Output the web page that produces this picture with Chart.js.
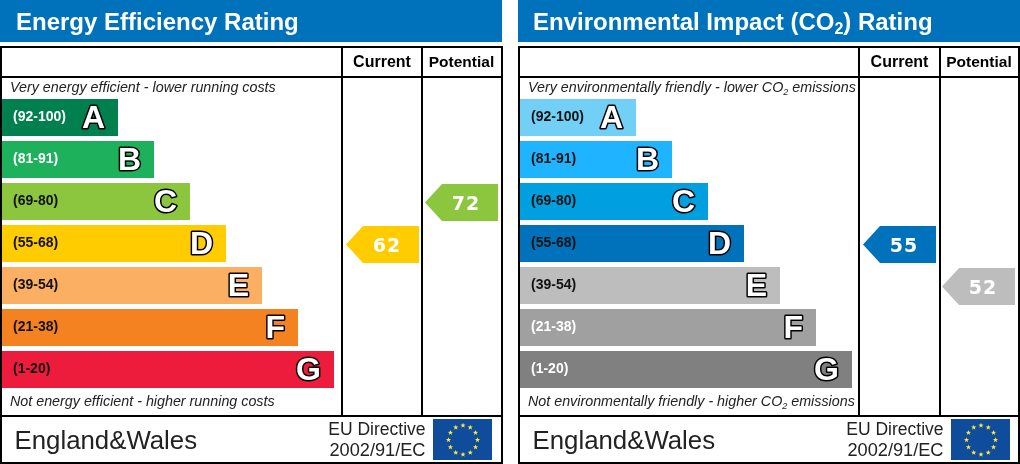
<!DOCTYPE html>
<html>
<head>
<meta charset="utf-8">
<title>Energy Performance Certificate</title>
<script src="https://cdn.jsdelivr.net/npm/chart.js@4"></script>
<style>
    html, body { margin: 0; padding: 0; background: #fff; overflow: hidden; }
    canvas { position: absolute; top: 0; }
    #energyChart { left: 0; }
    #envChart { left: 518px; }
</style>
</head>
<body>
<canvas id="energyChart" width="503" height="464"></canvas>
<canvas id="envChart" width="502" height="464"></canvas>
<script>
// rating bands
const bandRanges = ['(92-100)', '(81-91)', '(69-80)', '(55-68)', '(39-54)', '(21-38)', '(1-20)'];
const bandLetters = ['A', 'B', 'C', 'D', 'E', 'F', 'G'];
const bandLows = [92, 81, 69, 55, 39, 21, 1];
const bandLengths = [116, 152, 188, 224, 260, 296, 332];

// scores
const energyCurrent = 62;
const energyPotential = 72;
const envCurrent = 55;
const envPotential = 52;

// colours
const energyColors = ['#00804F', '#1CB15A', '#8CC63F', '#FFCC00', '#FBAF62', '#F58220', '#ED1C3C'];
const envColors = ['#72CFF5', '#1FB4FF', '#009FDF', '#0072BC', '#BDBDBD', '#A0A0A0', '#808080'];
const energyRangeColors = ['#fff', '#fff', '#111', '#111', '#111', '#111', '#111'];
const envRangeColors = ['#111', '#111', '#111', '#111', '#111', '#fff', '#fff'];

const SANS = '"Liberation Sans", Arial, sans-serif';

function rowOf(score) {
    return bandLows.findIndex(low => score >= low);
}

// floating bar on the x scale, scale starts 2px into the canvas
function pointerData(score, end) {
    const row = rowOf(score);
    return bandLetters.map((l, i) => (i === row ? [end - 75, end - 2] : null));
}

// text with a lowered small "2"
function drawSegments(ctx, segments, x, y, font, subFont, subDrop) {
    ctx.textAlign = 'left';
    segments.forEach(function (seg) {
        ctx.font = seg.sub ? subFont : font;
        ctx.fillText(seg.text, x, seg.sub ? y + subDrop : y);
        x += ctx.measureText(seg.text).width;
    });
}

function drawFlag(ctx) {
    ctx.fillStyle = '#0F4C9C';
    ctx.fillRect(433, 419, 59, 41);
    ctx.fillStyle = '#FFE93B';
    for (let i = 0; i < 12; i++) {
        const a = i * Math.PI / 6;
        const cx = 463 + 14.5 * Math.sin(a);
        const cy = 440 - 14.5 * Math.cos(a);
        ctx.beginPath();
        for (let p = 0; p < 10; p++) {
            const r = p % 2 ? 1.1 : 2.8;
            const b = p * Math.PI / 5;
            ctx.lineTo(cx + r * Math.sin(b), cy - r * Math.cos(b));
        }
        ctx.closePath();
        ctx.fill();
    }
}

// header, frame, captions and footer
const framePlugin = {
    id: 'frame',
    beforeDraw: function (chart) {
        const ctx = chart.ctx;
        const p = chart.options.plugins.frame;
        ctx.save();
        ctx.fillStyle = '#0072BC';
        ctx.fillRect(0, 0, p.width - (p.width === 503 ? 1 : 0), 42);
        ctx.fillStyle = '#fff';
        ctx.textBaseline = 'alphabetic';
        drawSegments(ctx, p.title, p.titleX, 30, 'bold 24px ' + SANS, 'bold 16px ' + SANS, 4);
        ctx.restore();
    },
    afterDraw: function (chart) {
        const ctx = chart.ctx;
        const p = chart.options.plugins.frame;
        ctx.save();

        // frame lines
        ctx.fillStyle = '#000';
        ctx.fillRect(0, 46, p.width, 2);
        ctx.fillRect(0, 76, p.width, 2);
        ctx.fillRect(0, 415, p.width, 2);
        ctx.fillRect(0, 462, p.width, 2);
        ctx.fillRect(0, 46, 2, 418);
        ctx.fillRect(p.width - 2, 46, 2, 418);
        ctx.fillRect(p.col1 - 1, 46, 2, 371);
        ctx.fillRect(p.col2 - 1, 46, 2, 371);

        // column headings
        ctx.fillStyle = '#000';
        ctx.textBaseline = 'alphabetic';
        ctx.textAlign = 'center';
        ctx.font = 'bold 16px ' + SANS;
        ctx.fillText('Current', (p.col1 + p.col2) / 2, 67);
        ctx.font = 'bold 15.5px ' + SANS;
        ctx.fillText('Potential', (p.col2 + p.width) / 2 - 1, 67);

        // captions
        ctx.fillStyle = '#222';
        drawSegments(ctx, p.topNote, 10, 92, 'italic 14.3px ' + SANS, 'italic 9px ' + SANS, 3);
        drawSegments(ctx, p.bottomNote, 10, 406, 'italic 14.3px ' + SANS, 'italic 9px ' + SANS, 3);

        // footer
        ctx.fillStyle = '#222';
        ctx.textAlign = 'left';
        ctx.font = '25.8px ' + SANS;
        ctx.fillText('England&Wales', 14.5, 449);
        ctx.textAlign = 'right';
        ctx.font = '17.5px ' + SANS;
        ctx.fillText('EU Directive', 425.5, 435);
        ctx.font = '18.2px ' + SANS;
        ctx.fillText('2002/91/EC', 425.5, 456);
        drawFlag(ctx);

        // band letters
        const bands = chart.getDatasetMeta(0).data;
        ctx.textAlign = 'right';
        ctx.font = 'bold 32px ' + SANS;
        ctx.lineJoin = 'round';
        ctx.lineWidth = 3;
        bandLetters.forEach(function (letter, i) {
            const x = bands[i].x - 13;
            const y = bands[i].y + 10;
            ctx.strokeStyle = '#000';
            ctx.strokeText(letter, x, y);
            ctx.fillStyle = '#fff';
            ctx.fillText(letter, x, y);
        });

        // score pointers
        [1, 2].forEach(function (index) {
            const dataset = chart.data.datasets[index];
            const row = rowOf(dataset.score);
            const el = chart.getDatasetMeta(index).data[row];
            const top = el.y - el.height / 2 + 1;
            const bottom = top + el.height;
            const shoulder = el.base + 17;
            ctx.fillStyle = dataset.pointerColor;
            ctx.beginPath();
            ctx.moveTo(el.base, (top + bottom) / 2);
            ctx.lineTo(shoulder, top);
            ctx.lineTo(el.x, top);
            ctx.lineTo(el.x, bottom);
            ctx.lineTo(shoulder, bottom);
            ctx.closePath();
            ctx.fill();
            ctx.fillStyle = '#fff';
            ctx.textAlign = 'center';
            ctx.font = 'bold 19px "DejaVu Sans", sans-serif';
            ctx.letterSpacing = '1px';
            ctx.fillText(String(dataset.score), shoulder + 24, (top + bottom) / 2 + 7);
            ctx.letterSpacing = '0px';
        });
        ctx.restore();
    }
};

function makePanel(id, colors, rangeColors, current, potential, frame) {
    new Chart(document.getElementById(id), {
        type: 'bar',
        data: {
            labels: bandRanges,
            datasets: [
                { data: bandLengths, backgroundColor: colors },
                { data: pointerData(current, frame.currentEnd), score: current, pointerColor: colors[rowOf(current)], backgroundColor: 'transparent' },
                { data: pointerData(potential, frame.potentialEnd), score: potential, pointerColor: colors[rowOf(potential)], backgroundColor: 'transparent' }
            ]
        },
        options: {
            indexAxis: 'y',
            responsive: false,
            animation: false,
            layout: { padding: { left: 2, right: 0, top: 96.5, bottom: 73.5 } },
            datasets: { bar: { grouped: false, categoryPercentage: 1, barPercentage: 37 / 42, borderWidth: 0 } },
            scales: {
                x: { type: 'linear', min: 0, max: frame.width - 2, display: false },
                y: {
                    grid: { display: false, drawTicks: false },
                    border: { display: false },
                    afterFit: function (scale) { scale.width = 0; },
                    ticks: {
                        z: 1,
                        mirror: true,
                        padding: 11,
                        autoSkip: false,
                        font: { family: SANS, size: 14, weight: 'bold' },
                        color: function (c) { return rangeColors[c.index]; }
                    }
                }
            },
            plugins: { legend: { display: false }, tooltip: { enabled: false }, frame: frame }
        },
        plugins: [framePlugin]
    });
}

makePanel('energyChart', energyColors, energyRangeColors, energyCurrent, energyPotential, {
    width: 503, col1: 342, col2: 422, currentEnd: 419, potentialEnd: 498, titleX: 16,
    title: [{ text: 'Energy Efficiency Rating' }],
    topNote: [{ text: 'Very energy efficient - lower running costs' }],
    bottomNote: [{ text: 'Not energy efficient - higher running costs' }]
});

makePanel('envChart', envColors, envRangeColors, envCurrent, envPotential, {
    width: 502, col1: 341, col2: 422, currentEnd: 418, potentialEnd: 497, titleX: 15,
    title: [{ text: 'Environmental Impact (CO' }, { text: '2', sub: true }, { text: ') Rating' }],
    topNote: [{ text: 'Very environmentally friendly - lower CO' }, { text: '2', sub: true }, { text: ' emissions' }],
    bottomNote: [{ text: 'Not environmentally friendly - higher CO' }, { text: '2', sub: true }, { text: ' emissions' }]
});
</script>
</body>
</html>
